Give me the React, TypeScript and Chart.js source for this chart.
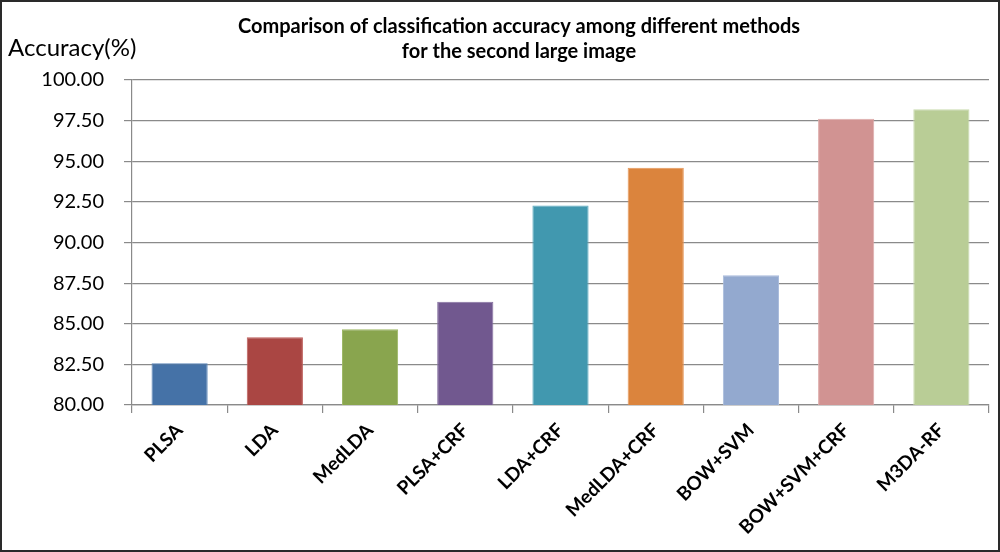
import React, { useEffect, useRef } from "react";
import { Chart, registerables } from "chart.js";

Chart.register(...registerables);

const categories = ["PLSA", "LDA", "MedLDA", "PLSA+CRF", "LDA+CRF", "MedLDA+CRF", "BOW+SVM", "BOW+SVM+CRF", "M3DA-RF"];
const accuracy = [82.57, 84.17, 84.66, 86.36, 92.27, 94.6, 87.98, 97.62, 98.2];
const barColors = ["#4572A7", "#AA4643", "#89A54E", "#71588F", "#4198AF", "#DB843D", "#93A9CF", "#D19392", "#B9CD96"];
const barBorders = ["#5b86b8", "#bd5c59", "#9cb764", "#8570a0", "#5aaabf", "#e6975a", "#a9bbdb", "#ddaaa9", "#cadbb0"];
const titleLines = ["Comparison of classification accuracy among different methods", "for the second large image"];
const yAxisLabel = "Accuracy(%)";
const yMin = 80;
const yMax = 100;
const yStep = 2.5;

const FONT = "Lato, 'Open Sans', sans-serif";

export default function App() {
  const ref = useRef<HTMLCanvasElement | null>(null);

  useEffect(() => {
    document.body.style.margin = "0";
    if (!ref.current) return;
    const textPlugin = {
      id: "extraText",
      afterDraw(chart: any) {
        const ctx = chart.ctx;
        const area = chart.chartArea;
        ctx.save();
        ctx.fillStyle = "#000";
        ctx.textBaseline = "middle";
        ctx.font = `bold 20px ${FONT}`;
        ctx.textAlign = "center";
        const cx = chart.width / 2 + 19;
        ctx.fillText(titleLines[0], cx, area.top - 53);
        ctx.fillText(titleLines[1], cx, area.top - 28);
        ctx.font = `24px ${FONT}`;
        ctx.textAlign = "left";
        ctx.fillText(yAxisLabel, area.left - 124, area.top - 32);
        ctx.restore();
      },
    };
    const chart = new Chart(ref.current, {
      type: "bar",
      data: {
        labels: categories,
        datasets: [
          {
            data: accuracy,
            backgroundColor: barColors,
            borderColor: barBorders,
            borderWidth: 1,
            barPercentage: 0.59,
            categoryPercentage: 1,
          },
        ],
      },
      options: {
        animation: false,
        responsive: false,
        layout: { padding: { left: 8, right: 11, top: 80, bottom: 0 } },
        plugins: {
          legend: { display: false },
          tooltip: { enabled: false },
          title: { display: false },
        },
        scales: {
          x: {
            afterFit(scale: any) {
              scale.height = 147;
            },
            grid: { display: true, drawOnChartArea: false, drawTicks: true, tickLength: 8, color: "#8a8a8a", lineWidth: 1.2, offset: true },
            border: { display: true, color: "#8a8a8a", width: 1.2 },
            ticks: {
              color: "#000",
              font: { family: FONT, size: 19, weight: "bold" },
              minRotation: 45,
              maxRotation: 45,
              padding: 6,
              autoSkip: false,
            },
          },
          y: {
            min: yMin,
            max: yMax,
            afterFit(scale: any) {
              scale.width = 124;
            },
            grid: { color: "#8a8a8a", lineWidth: 1.2, tickLength: 8, drawTicks: true },
            border: { display: true, color: "#8a8a8a", width: 1.2 },
            ticks: {
              stepSize: yStep,
              color: "#000",
              font: { family: FONT, size: 20 },
              padding: 20,
              callback: (v: any) => Number(v).toFixed(2),
            },
          },
        },
      },
      plugins: [textPlugin],
    });
    return () => chart.destroy();
  }, []);

  return (
    <div style={{ position: "relative", width: 1000, height: 552, background: "#fff" }}>
      <canvas ref={ref} width={1000} height={552} style={{ display: "block" }} />
      <div
        style={{
          position: "absolute",
          inset: 0,
          border: "2px solid #2a2a2a",
          pointerEvents: "none",
        }}
      />
    </div>
  );
}
